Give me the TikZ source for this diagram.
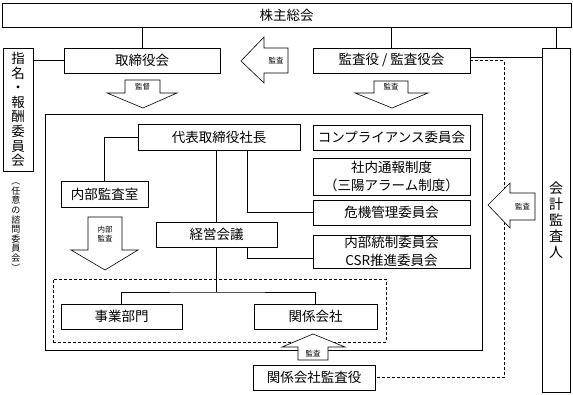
\documentclass[tikz,border=0pt]{standalone}
\usepackage{fontspec}
\setmainfont{Noto Sans CJK JP}
\usetikzlibrary{calc}
\tikzset{
  box/.style    = {draw, line width=0.6pt, inner sep=0pt, align=center,
                   minimum height=25pt, font=\fontsize{13.5}{18}\selectfont},
  vbox/.style   = {draw, line width=0.6pt, inner sep=0pt, align=center,
                   font=\fontsize{13.5}{14.6}\selectfont},
  frame/.style  = {draw, line width=0.6pt, inner sep=0pt},
  conn/.style   = {line width=0.6pt},
  dconn/.style  = {line width=0.6pt, dash pattern=on 3pt off 2pt},
  barrow/.style = {draw, fill=white, line width=0.6pt, line join=miter},
  alabel/.style = {inner sep=0pt, align=center, font=\fontsize{7.5}{9.5}\selectfont}
}

\begin{document}
\begin{tikzpicture}[x=1pt, y=-1pt]
\useasboundingbox (0,0) rectangle (573,394);

%% --- outer organs ---
\node[box, minimum width=569pt, minimum height=24pt] (soukai) at (286.5,15) {株主総会};
\node[box, minimum width=156pt] (torishimari) at (142,60.5) {取締役会};
\node[box, minimum width=157pt] (kansayaku) at (391.5,60.5) {監査役 / 監査役会};
\node[vbox, minimum width=30pt, minimum height=123pt] (shimei) at (18,109.5)
  {指\\名\\・\\報\\酬\\委\\員\\会};
\node[alabel, font=\fontsize{9}{9.6}\selectfont] (nini) at (16,227)
  {︵\\任\\意\\の\\諮\\問\\委\\員\\会\\︶};
\node[vbox, font=\fontsize{14}{16}\selectfont, minimum width=28pt, minimum height=344pt]
  (kaikei) at (556,220) {会\\計\\監\\査\\人};

%% --- frames ---
\node[frame, minimum width=437pt, minimum height=236pt] (gyomu) at (263.5,232) {};
\node[frame, dconn, minimum width=333pt, minimum height=63pt] (group) at (219.5,310.5) {};

%% --- inner organs ---
\node[box, minimum width=162pt, minimum height=26pt] (daihyo) at (219,137) {代表取締役社長};
\node[box, minimum width=87pt, minimum height=26pt] (naibukansa) at (104.5,194) {内部監査室};
\node[box, minimum width=121pt] (keiei) at (216.5,234.5) {経営会議};
\node[box, minimum width=157pt] (comp) at (391.5,137.5) {コンプライアンス委員会};
\node[box, minimum width=157pt, minimum height=37pt] (shanai) at (391.5,176.5)
  {社内通報制度\\（三陽アラーム制度）};
\node[box, minimum width=157pt] (kiki) at (391.5,212.5) {危機管理委員会};
\node[box, minimum width=157pt, minimum height=33pt] (naibutosei) at (391.5,251.5)
  {内部統制委員会\\CSR推進委員会};
\node[box, minimum width=121pt] (jigyo) at (121.5,316.5) {事業部門};
\node[box, minimum width=123pt] (kankei) at (315.5,316.5) {関係会社};
\node[box, minimum width=122pt] (kkansa) at (314,377.5) {関係会社監査役};

%% --- connectors ---
\draw[conn] (soukai.south -| torishimari.north) -- (torishimari.north);
\draw[conn] (soukai.south -| kansayaku.north) -- (kansayaku.north);
\draw[conn] (soukai.south -| kaikei.north) -- (kaikei.north);
\draw[conn] (torishimari.west) -- (torishimari.west -| shimei.east);
\draw[conn] ([yshift=3.5pt]kansayaku.east) -- ([yshift=3.5pt]kansayaku.east -| kaikei.west);
\coordinate (dturn) at (504,61);
\draw[dconn] (kansayaku.east) -- (kansayaku.east -| dturn) |- (kkansa.east);

\draw[conn] (daihyo.west) -| (naibukansa.north);
\draw[conn] (keiei.north |- daihyo.south) -- (keiei.north);
\draw[conn] ([xshift=28pt]daihyo.south) |- (kiki.west);
\draw[conn] ([xshift=30.5pt]keiei.south) |- ([yshift=-6.5pt]naibutosei.west);
\coordinate (bunki) at (216.5,292);
\draw[conn] (keiei.south) -- (bunki);
\draw[conn] (jigyo.north) |- (bunki) -| (kankei.north);

%% --- block arrows ---
\draw[barrow] (241,61) -- (264,37) -- (264,48) -- (288,48) -- (288,73)
  -- (264,73) -- (264,83) -- cycle;
\node[alabel] (a1) at (276,60.5) {監査};
\draw[barrow] (125,80) -- (160,80) -- (160,93) -- (177,93) -- (143,108)
  -- (107,93) -- (125,93) -- cycle;
\node[alabel] (a2) at (142.5,86.5) {監督};
\draw[barrow] (374,81) -- (408,81) -- (408,93) -- (428,93) -- (392,108)
  -- (355,93) -- (374,93) -- cycle;
\node[alabel] (a3) at (391,87) {監査};
\draw[barrow] (88,217) -- (122,217) -- (122,250) -- (138,250) -- (105,270)
  -- (71,250) -- (88,250) -- cycle;
\node[alabel] (a4) at (105,234) {内部\\監査};
\draw[barrow] (488,205) -- (510,183) -- (510,193) -- (535,193) -- (535,220)
  -- (510,220) -- (510,228) -- cycle;
\node[alabel] (a5) at (522.5,206.5) {監査};
\draw[barrow] (313,334) -- (345,347) -- (328,347) -- (328,360) -- (298,360)
  -- (298,347) -- (282,347) -- cycle;
\node[alabel] (a6) at (313,353.5) {監査};

\end{tikzpicture}
\end{document}
